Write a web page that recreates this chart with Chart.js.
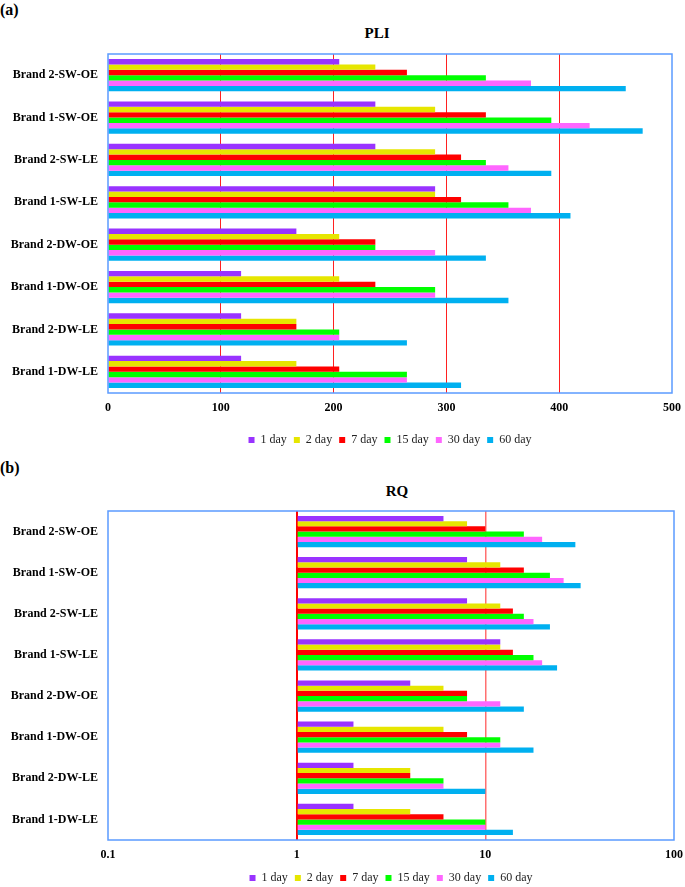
<!DOCTYPE html>
<html>
<head>
<meta charset="utf-8">
<script src="https://cdn.jsdelivr.net/npm/chart.js@4/dist/chart.umd.min.js"></script>
<style>
  body { margin: 0; width: 685px; height: 887px; overflow: hidden; background: #fff; position: relative;
         font-family: "Liberation Serif", "Times New Roman", serif; }
  .lbl { position: absolute; font-weight: bold; line-height: 1; white-space: nowrap; color: #000; }
  .mid { transform: translateX(-50%); }
  canvas { position: absolute; left: 0; }
</style>
</head>
<body>
<div class="lbl" style="left:0;top:2px;font-size:16px">(a)</div>
<div class="lbl mid" style="left:377px;top:26px;font-size:15px">PLI</div>
<div class="lbl" style="left:0;top:460px;font-size:16px">(b)</div>
<div class="lbl mid" style="left:397px;top:484px;font-size:15px">RQ</div>
<canvas id="chart-pli" width="685" height="460" style="top:0"></canvas>
<canvas id="chart-rq" width="685" height="434" style="top:460px"></canvas>
<script>
const brands = ["Brand 2-SW-OE", "Brand 1-SW-OE", "Brand 2-SW-LE", "Brand 1-SW-LE",
                "Brand 2-DW-OE", "Brand 1-DW-OE", "Brand 2-DW-LE", "Brand 1-DW-LE"];
const periods = ["1 day", "2 day", "7 day", "15 day", "30 day", "60 day"];
const colors = ["#9933FF", "#E6E600", "#FF0000", "#00FF00", "#FF66FF", "#00B0F0"];

// PLI, one array per period, brands in the order above
const pli1 = [205, 237, 237, 290, 167, 118, 118, 118];
const pli2 = [237, 290, 290, 290, 205, 205, 167, 167];
const pli7 = [265, 335, 313, 313, 237, 237, 167, 205];
const pli15 = [335, 393, 335, 355, 237, 290, 205, 265];
const pli30 = [375, 427, 355, 375, 290, 290, 205, 265];
const pli60 = [459, 474, 393, 410, 335, 355, 265, 313];

// RQ
const rq1 = [6, 8, 8, 12, 4, 2, 2, 2];
const rq2 = [8, 12, 12, 12, 6, 6, 4, 4];
const rq7 = [10, 16, 14, 14, 8, 8, 4, 6];
const rq15 = [16, 22, 16, 18, 8, 12, 6, 10];
const rq30 = [20, 26, 18, 20, 12, 12, 6, 10];
const rq60 = [30, 32, 22, 24, 16, 18, 10, 14];

const pliTicks = [0, 100, 200, 300, 400, 500];
const rqTicks = [0.1, 1, 10, 100];

const boxBorder = {
  id: "boxBorder",
  afterDatasetsDraw(chart) {
    const a = chart.chartArea, ctx = chart.ctx;
    ctx.save();
    ctx.strokeStyle = "#5B9BFF";
    ctx.lineWidth = 1.5;
    ctx.strokeRect(a.left, a.top, a.right - a.left, a.bottom - a.top);
    ctx.restore();
  },
};

function makeDatasets(series, extra) {
  return series.map((data, i) => Object.assign({
    label: periods[i],
    data: data,
    backgroundColor: colors[i],
    borderWidth: 0,
    categoryPercentage: 0.76,
    barPercentage: 1.0,
  }, extra));
}

// x axis: fixed height, and no extra side padding for the end labels
function fitX(h) {
  return (s) => { s.height = h; s.paddingLeft = 0; s.paddingRight = 0; };
}

function makeOptions(xScale, padding) {
  return {
    indexAxis: "y",
    responsive: false,
    animation: false,
    devicePixelRatio: 1,
    layout: { padding: padding },
    plugins: {
      tooltip: { enabled: false },
      legend: {
        position: "bottom",
        fullSize: false,
        labels: {
          boxWidth: 6, boxHeight: 6, padding: 7, color: "#222",
          font: { family: "Liberation Serif", size: 12 },
        },
      },
    },
    scales: {
      x: xScale,
      y: {
        grid: { display: false, drawTicks: false },
        border: { display: false },
        ticks: { color: "#000", padding: 10, font: { family: "Liberation Serif", size: 12, weight: "bold" } },
        afterFit: (s) => { s.width = 108; },
      },
    },
  };
}

new Chart(document.getElementById("chart-pli"), {
  type: "bar",
  data: { labels: brands, datasets: makeDatasets([pli1, pli2, pli7, pli15, pli30, pli60], {}) },
  options: makeOptions({
    type: "linear",
    min: 0,
    max: 500,
    afterBuildTicks: (s) => { s.ticks = pliTicks.map((v) => ({ value: v })); },
    grid: {
      drawTicks: false,
      color: (c) => (c.tick.value === 0 || c.tick.value === 500 ? "rgba(0,0,0,0)" : "#FF2020"),
      lineWidth: 1,
    },
    border: { display: false },
    ticks: { color: "#000", padding: 8, font: { family: "Liberation Serif", size: 12, weight: "bold" } },
    afterFit: fitX(34),
  }, { top: 54, left: 0, right: 13, bottom: 4 }),
  plugins: [boxBorder],
});

new Chart(document.getElementById("chart-rq"), {
  type: "bar",
  data: { labels: brands, datasets: makeDatasets([rq1, rq2, rq7, rq15, rq30, rq60], { base: 1 }) },
  options: makeOptions({
    type: "logarithmic",
    min: 0.1,
    max: 100,
    afterBuildTicks: (s) => { s.ticks = rqTicks.map((v) => ({ value: v })); },
    grid: {
      drawTicks: false,
      color: (c) => (c.tick.value === 1 ? "#FF0000" : c.tick.value === 10 ? "#FF7070" : "rgba(0,0,0,0)"),
      lineWidth: (c) => (c.tick.value === 1 ? 2 : 1.5),
    },
    border: { display: false },
    ticks: {
      color: "#000", padding: 8,
      font: { family: "Liberation Serif", size: 12, weight: "bold" },
      callback: (v) => String(v),
    },
    afterFit: fitX(25),
  }, { top: 51, left: 0, right: 11, bottom: 0 }),
  plugins: [boxBorder],
});
</script>
</body>
</html>
